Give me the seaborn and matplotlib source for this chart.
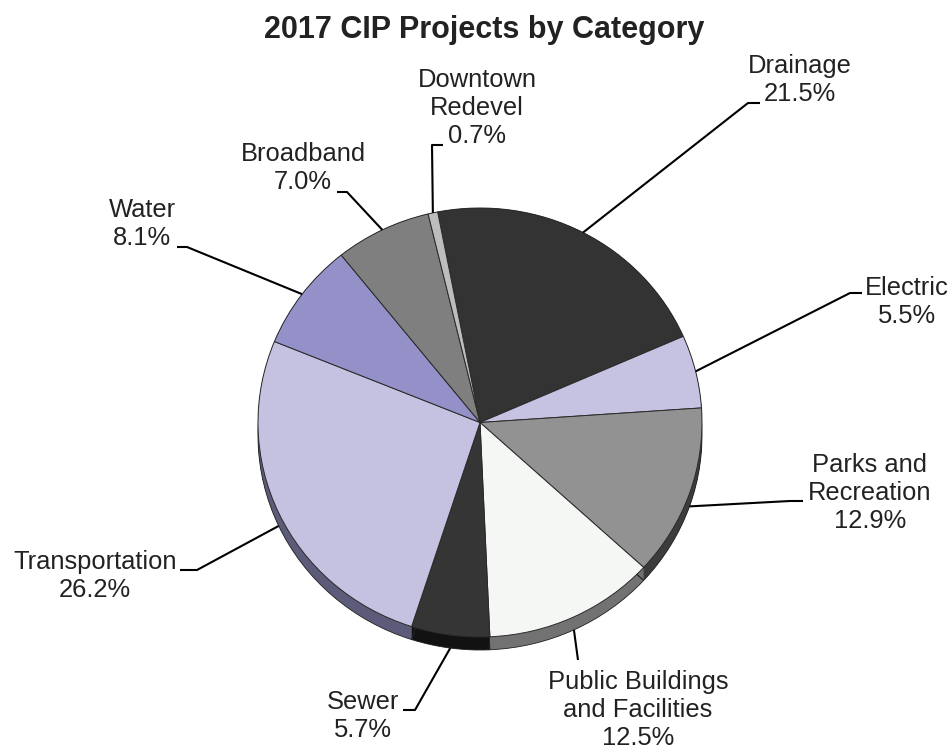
import numpy as np
import matplotlib
matplotlib.use("Agg")
import matplotlib.pyplot as plt
import seaborn as sns

# ---- data ----
categories = ["Drainage", "Electric", "Parks and\nRecreation", "Public Buildings\nand Facilities",
              "Sewer", "Transportation", "Water", "Broadband", "Downtown\nRedevel"]
shares = [21.5, 5.5, 12.9, 12.5, 5.7, 26.2, 8.1, 7.0, 0.7]
title = "2017 CIP Projects by Category"

# ---- styles ----
top_colors = ["#333333", "#c5c3e1", "#929292", "#f5f7f5", "#353535",
              "#c4c2e0", "#9391c8", "#7f7f7f", "#bdbdbd"]
side_colors = ["#1a1a1a", "#6e6d8a", "#3c3c3c", "#727272", "#121212",
               "#5c5b7a", "#4d4c78", "#444444", "#666666"]

sns.set_theme(style="white")
plt.rcParams["font.family"] = ["Liberation Sans", "DejaVu Sans"]

W, H = 953, 752
fig = plt.figure(figsize=(W / 100, H / 100), dpi=100)

# pie geometry (pixels)
CX, CY, RX, RY = 480.0, 422.5, 222.0, 214.5
DEPTH = 13.0

ax_pie = fig.add_axes([0, 0, 1, 1])
ax_lab = fig.add_axes([0, 0, 1, 1])
ax_lab.patch.set_alpha(0)

# extruded side: stacked layers from deepest up
n_layers = 28
for d in np.linspace(DEPTH, 0, n_layers):
    ax_pie.pie(shares, colors=side_colors, startangle=101, counterclock=False,
               center=(0, -d / RY), radius=1.0, frame=True,
               wedgeprops=dict(linewidth=0))
# bottom outline
ax_pie.pie(shares, colors=["none"] * len(shares), startangle=101, counterclock=False,
           center=(0, -DEPTH / RY), radius=1.0, frame=True,
           wedgeprops=dict(linewidth=0.6, edgecolor="#222222", fill=False))
wedges, _ = ax_pie.pie(shares, colors=top_colors, startangle=101, counterclock=False,
                       center=(0, 0), radius=1.0, frame=True,
                       wedgeprops=dict(linewidth=0.7, edgecolor="#2a2a2a"))

ax_pie.set_aspect("auto")
ax_pie.set_xlim(-CX / RX, (W - CX) / RX)
ax_pie.set_ylim((CY - H) / RY, CY / RY)
ax_pie.axis("off")

ax_lab.set_xlim(0, W)
ax_lab.set_ylim(H, 0)
ax_lab.axis("off")

# ---- labels layout (pixel coords) ----
label_pos = [(800, 80), (907, 302), (870, 493), (638, 710), (363, 716),
             (95, 576), (142, 224), (303, 168), (477, 108)]
leader_pts = [
    [(748, 103), (760, 103)],
    [(850, 293), (862, 293)],
    [(790, 501), (803, 501)],
    [(578, 660)],
    [(415, 710), (403, 710)],
    [(197, 570), (180, 570)],
    [(187, 247), (177, 247)],
    [(347, 192), (337, 192)],
    [(432, 145), (443, 145)],
]

text_color = "#222222"
for w, cat, val, pos, pts in zip(wedges, categories, shares, label_pos, leader_pts):
    mid = np.deg2rad((w.theta1 + w.theta2) / 2.0)
    ax_x = CX + RX * np.cos(mid)
    ax_y = CY - RY * np.sin(mid)
    if np.sin(mid) < 0:
        ax_y += DEPTH
    xs = [ax_x] + [p[0] for p in pts]
    ys = [ax_y] + [p[1] for p in pts]
    ax_lab.plot(xs, ys, color="black", lw=1.5, solid_capstyle="butt")
    ax_lab.text(pos[0], pos[1], f"{cat}\n{val:.1f}%", ha="center", va="center",
                multialignment="center", fontsize=18.4, color=text_color)

ax_lab.text(484, 30, title, ha="center", va="center", fontsize=22,
            fontweight="bold", color=text_color)

fig.savefig("out.png", dpi=100)
